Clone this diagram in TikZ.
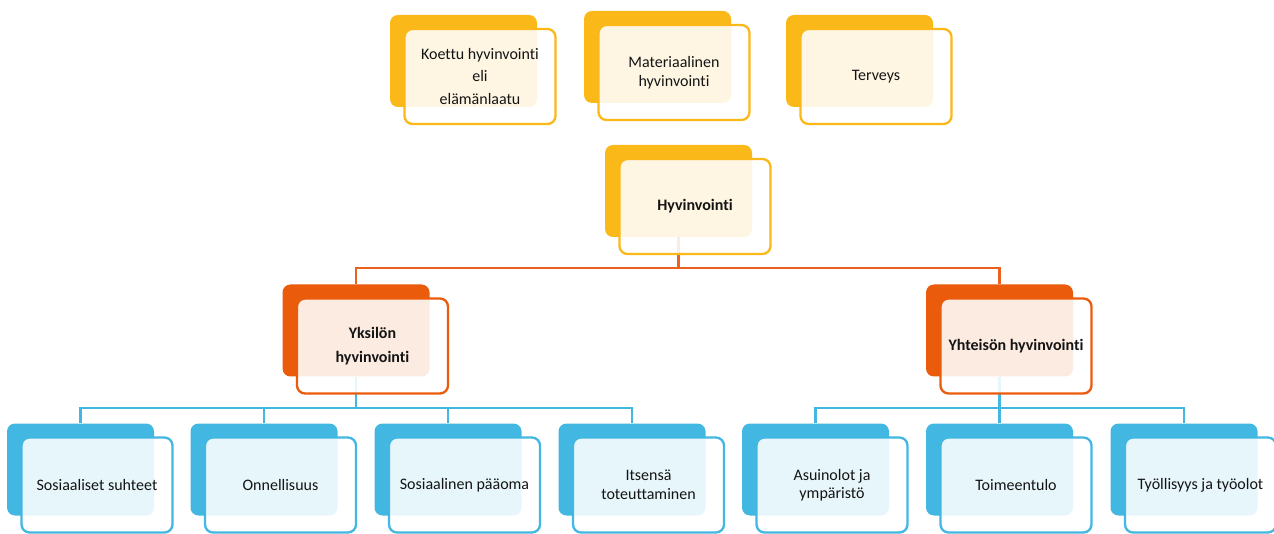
\documentclass[tikz,border=0pt]{standalone}
\usepackage{fontspec}
\setmainfont{Carlito}[RawFeature={-liga}]
\usetikzlibrary{backgrounds,calc}
\definecolor{gold}{HTML}{FBB819}
\definecolor{rust}{HTML}{EA5B0C}
\definecolor{linkred}{HTML}{E9621E}
\definecolor{sky}{HTML}{41B7E1}
\tikzset{
  x=1pt, y=-1pt,
  backbox/.style={rounded corners=8pt, minimum width=147pt, minimum height=92pt, inner sep=0pt, fill=#1, draw=none},
  frontbox/.style={rounded corners=8pt, minimum width=151pt, minimum height=95pt, inner sep=0pt,
    draw=#1, line width=2.3pt, fill=white, fill opacity=0.88, text opacity=1, align=center,
    font=\fontsize{16}{18.5}\selectfont, text=black!92},
  linkline/.style={line width=2.4pt, draw=#1},
}
\newcommand\pairbox[5]{%
  \node[backbox=#4] (b#1) at (#2,#3) {};
  \node[frontbox=#4] (f#1) at ($(#2,#3)+(16.5,15.5)$) {#5};
}
\begin{document}
\begin{tikzpicture}
\useasboundingbox (0,0) rectangle (1274,534);
% top row
\pairbox{K}{463.5}{61}{gold}{Koettu hyvinvointi\\[4pt] eli\\[4pt] elämänlaatu}
\pairbox{M}{657.5}{57}{gold}{Materiaalinen\\ hyvinvointi}
\pairbox{T}{859.5}{61}{gold}{Terveys}
% root
\pairbox{H}{678.5}{191}{gold}{\bfseries Hyvinvointi}
% second level
\pairbox{Y}{356}{330.5}{rust}{\bfseries Yksilön\\[5pt] \bfseries hyvinvointi}
\pairbox{C}{999.5}{330.5}{rust}{\bfseries Yhteisön hyvinvointi}
% bottom row
\pairbox{S1}{80.5}{469.5}{sky}{Sosiaaliset suhteet}
\pairbox{S2}{264}{469.5}{sky}{Onnellisuus}
\pairbox{S3}{448}{469.5}{sky}{Sosiaalinen pääoma}
\pairbox{S4}{632}{469.5}{sky}{Itsensä\\ toteuttaminen}
\pairbox{S5}{815.5}{469.5}{sky}{Asuinolot ja\\ ympäristö}
\pairbox{S6}{999.5}{469.5}{sky}{Toimeentulo}
\pairbox{S7}{1184}{469.5}{sky}{Työllisyys ja työolot}
\begin{scope}[on background layer]
  \coordinate (hbus) at ($(bH.south)+(0,31)$);
  \draw[linkline=linkred] (bH.south) -- (hbus) -| (bY.north);
  \draw[linkline=linkred] (hbus) -| (bC.north);
  \coordinate (ybus) at ($(bY.south)+(0,31)$);
  \draw[linkline=sky] (bY.south) -- (ybus) -| (bS1.north);
  \draw[linkline=sky] (ybus) -| (bS2.north);
  \draw[linkline=sky] (ybus) -| (bS3.north);
  \draw[linkline=sky] (ybus) -| (bS4.north);
  \coordinate (cbus) at ($(bC.south)+(0,31)$);
  \draw[linkline=sky] (bC.south) -- (cbus) -| (bS5.north);
  \draw[linkline=sky] (cbus) -| (bS6.north);
  \draw[linkline=sky] (cbus) -| (bS7.north);
\end{scope}
\end{tikzpicture}
\end{document}
